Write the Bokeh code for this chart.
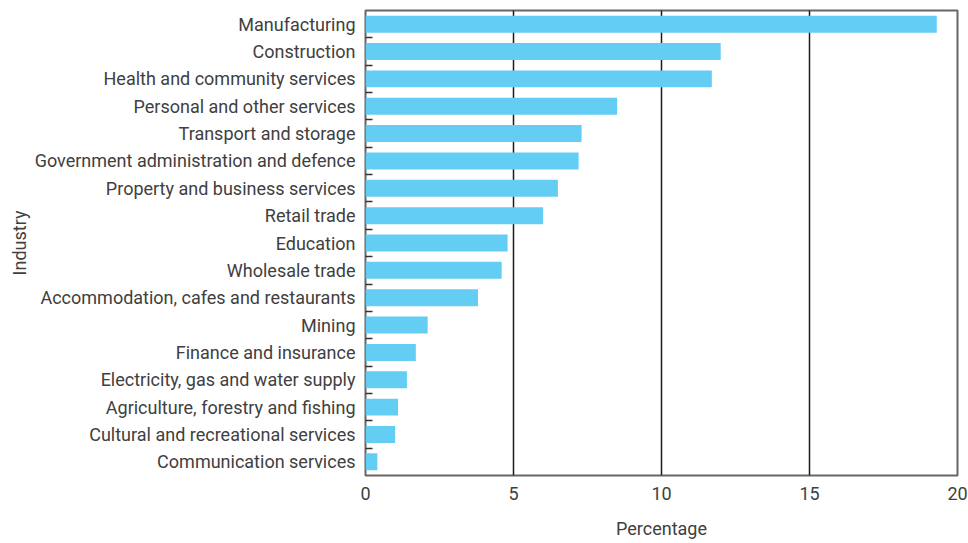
from bokeh.plotting import figure
from bokeh.models import Range1d, FixedTicker
from bokeh.embed import file_html
from bokeh.resources import INLINE

industries = [
    "Manufacturing",
    "Construction",
    "Health and community services",
    "Personal and other services",
    "Transport and storage",
    "Government administration and defence",
    "Property and business services",
    "Retail trade",
    "Education",
    "Wholesale trade",
    "Accommodation, cafes and restaurants",
    "Mining",
    "Finance and insurance",
    "Electricity, gas and water supply",
    "Agriculture, forestry and fishing",
    "Cultural and recreational services",
    "Communication services",
]
percentages = [19.3, 12.0, 11.7, 8.5, 7.3, 7.2, 6.5, 6.0, 4.8, 4.6, 3.8, 2.1, 1.7, 1.4, 1.1, 1.0, 0.4]
x_ticks = [0, 5, 10, 15, 20]

n = len(industries)
ypos = [i + 0.5 for i in range(n)]

FONT = "Roboto"
TXT = "#404040"

p = figure(width=968, height=543, output_backend="svg", toolbar_location=None,
           x_range=Range1d(0, 20), y_range=Range1d(n, 0),
           min_border_left=365, min_border_right=11, min_border_top=10, min_border_bottom=68)

p.hbar(y=ypos, right=percentages, left=0, height=0.62, color="#64cdf4", line_color=None)

p.outline_line_color = "#666666"
p.outline_line_width = 2
p.outline_line_alpha = 1

# x axis
p.xaxis.ticker = FixedTicker(ticks=x_ticks)
p.xaxis.axis_line_color = None
p.xaxis.major_tick_line_color = None
p.xaxis.minor_tick_line_color = None
p.xaxis.major_label_text_font = FONT
p.xaxis.major_label_text_font_size = "18px"
p.xaxis.major_label_text_color = TXT
p.xaxis.major_label_standoff = 5
p.xaxis.axis_label = "Percentage"
p.xaxis.axis_label_text_font = FONT
p.xaxis.axis_label_text_font_size = "18px"
p.xaxis.axis_label_text_font_style = "normal"
p.xaxis.axis_label_text_color = TXT
p.xaxis.axis_label_standoff = 15

p.xgrid.ticker = FixedTicker(ticks=x_ticks[1:-1])
p.xgrid.grid_line_color = "#1a1a1a"
p.xgrid.grid_line_width = 1.5
p.ygrid.grid_line_color = None

# y axis
p.yaxis.ticker = FixedTicker(ticks=ypos, minor_ticks=list(range(1, n)))
p.yaxis.major_label_overrides = {y: name for y, name in zip(ypos, industries)}
p.yaxis.axis_line_color = None
p.yaxis.major_tick_line_color = None
p.yaxis.minor_tick_line_color = "#333333"
p.yaxis.minor_tick_line_width = 1.5
p.yaxis.minor_tick_in = 7
p.yaxis.minor_tick_out = 0
p.yaxis.major_label_text_font = FONT
p.yaxis.major_label_text_font_size = "18px"
p.yaxis.major_label_text_color = TXT
p.yaxis.major_label_standoff = 4
p.yaxis.axis_label = "Industry"
p.yaxis.axis_label_text_font = FONT
p.yaxis.axis_label_text_font_size = "18px"
p.yaxis.axis_label_text_font_style = "normal"
p.yaxis.axis_label_text_color = TXT
p.yaxis.axis_label_standoff = 2

open("out.html", "w").write(file_html(p, INLINE))
